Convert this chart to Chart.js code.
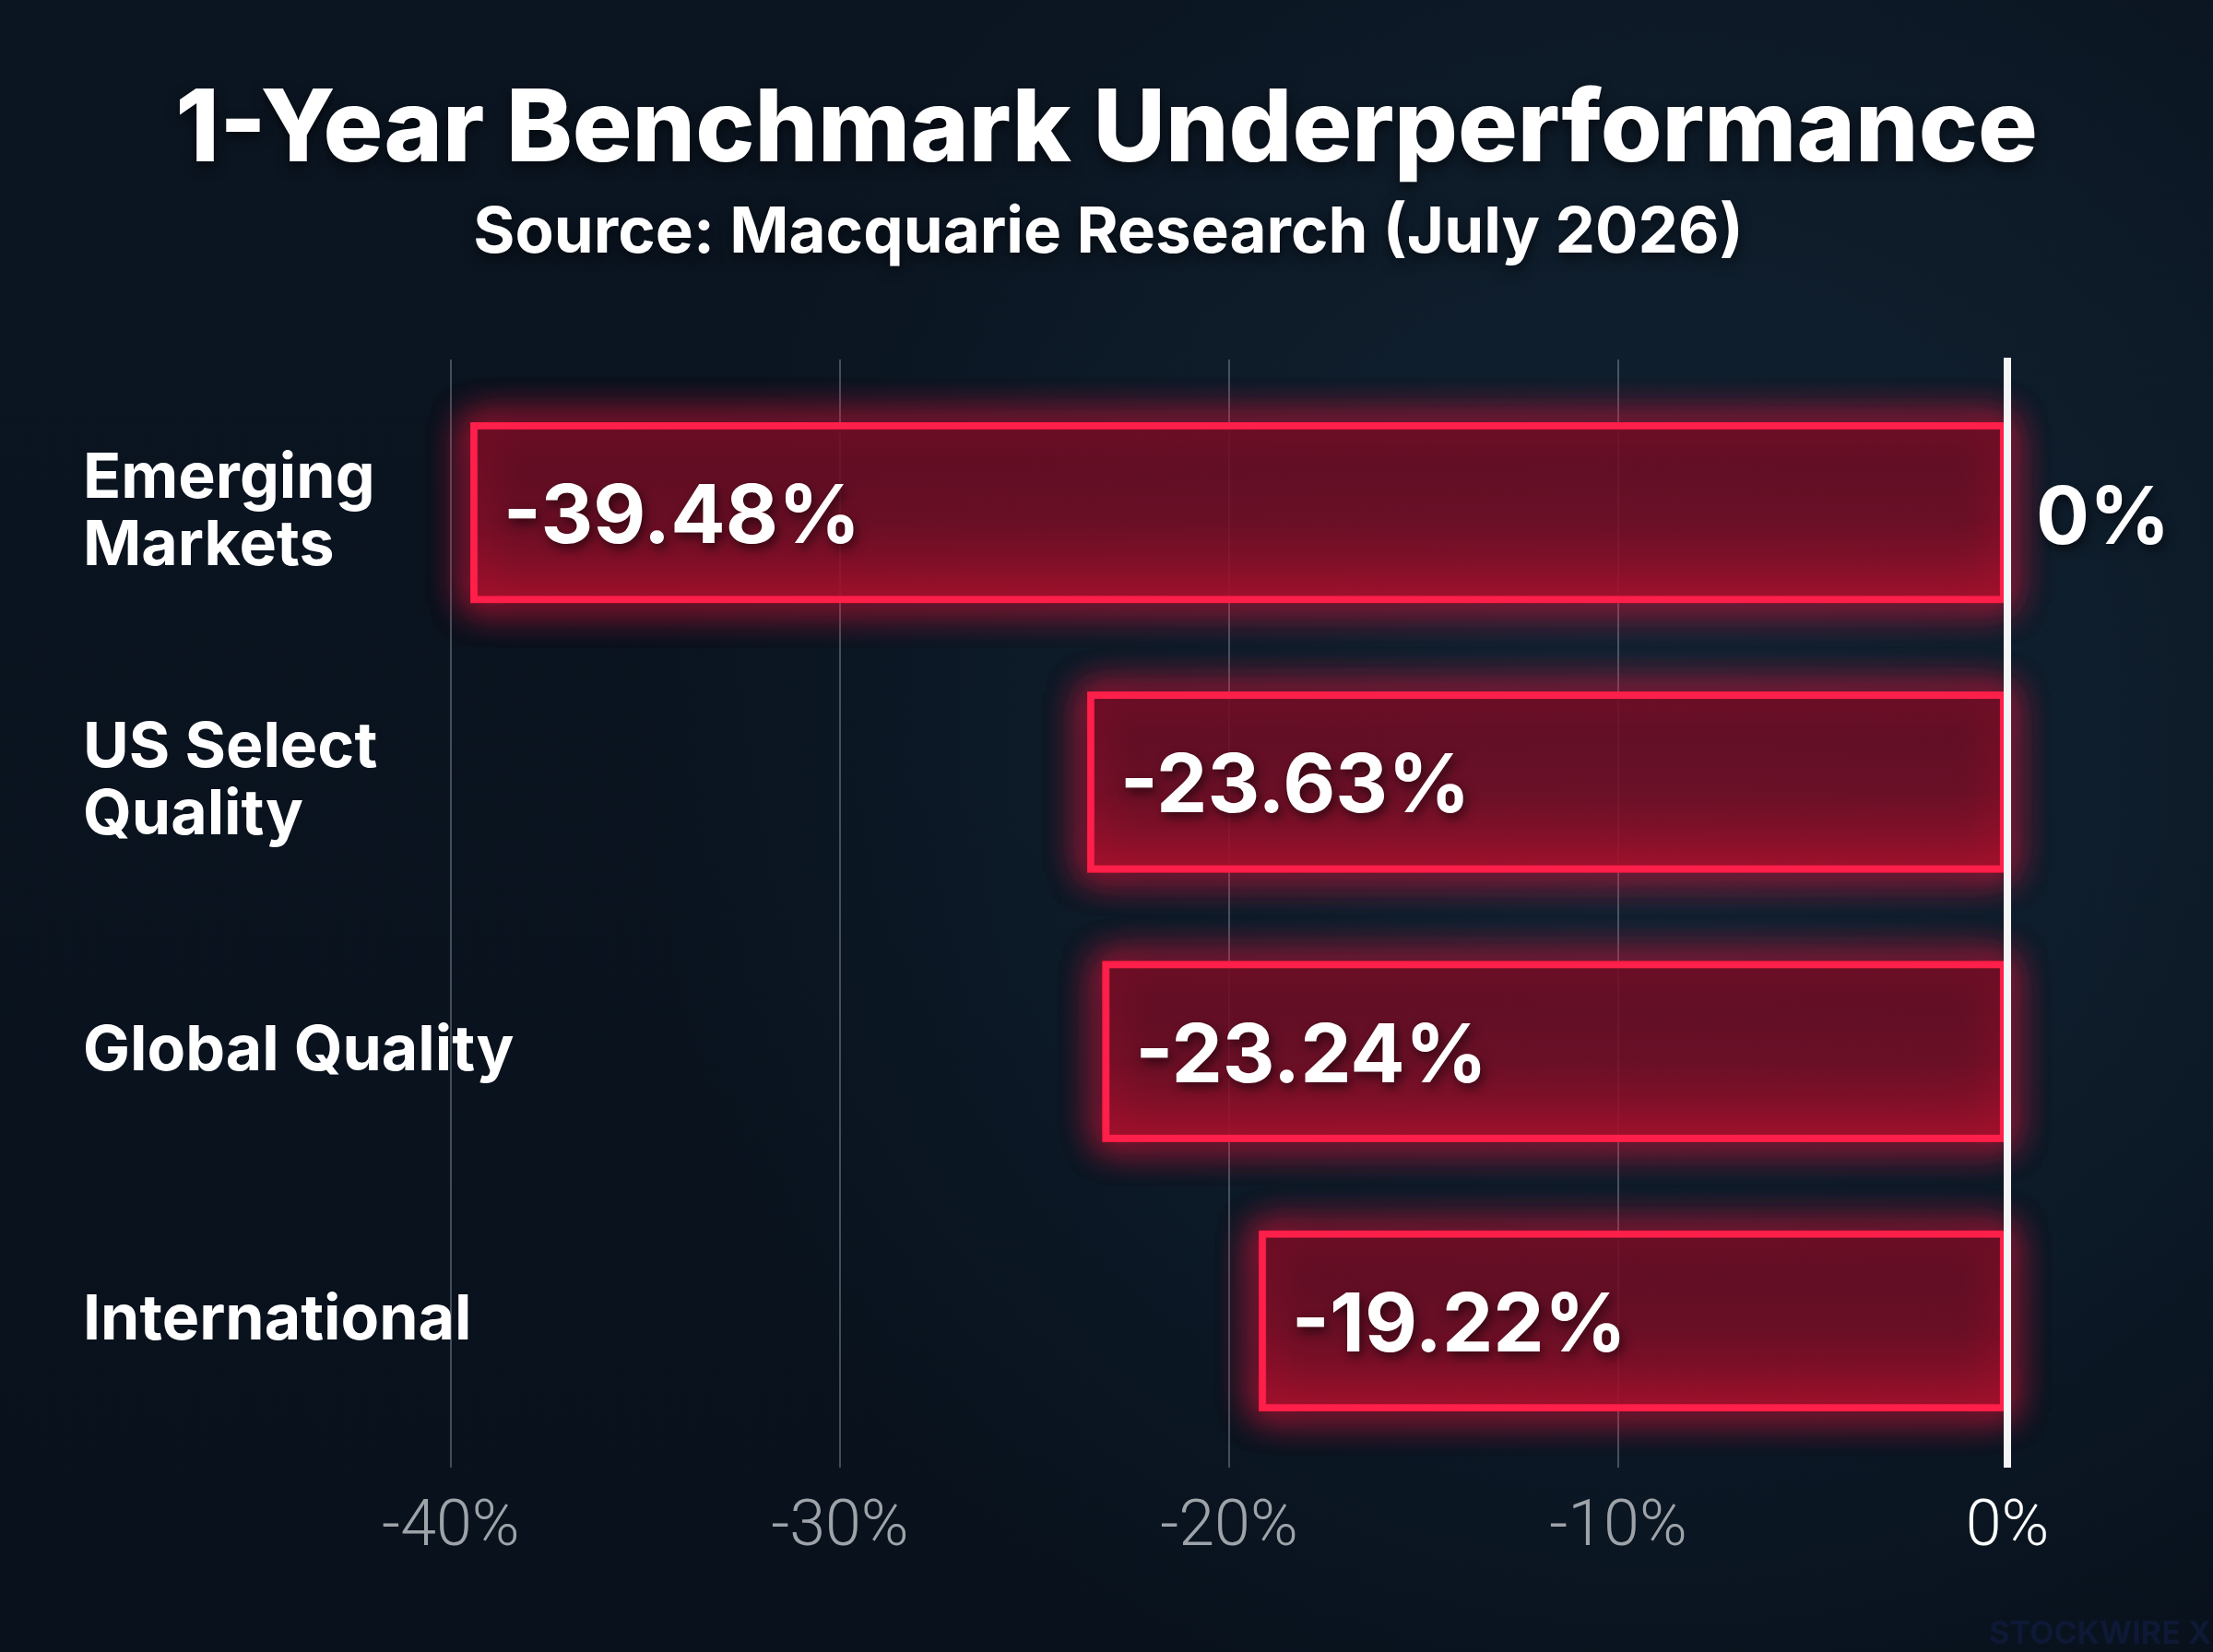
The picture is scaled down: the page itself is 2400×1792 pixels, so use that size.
<!DOCTYPE html>
<html><head><meta charset="utf-8">
<script src="https://cdn.jsdelivr.net/npm/chart.js@4.4.1/dist/chart.umd.min.js"></script>
<style>
html,body{margin:0;padding:0;background:#0a1420;}
#wrap{width:2400px;height:1792px;position:relative;}
canvas{display:block;}
</style></head>
<body><div id="wrap"><canvas id="c" width="2400" height="1792"></canvas></div>
<script>
const titleText = '1-Year Benchmark Underperformance';
const subtitleText = 'Source: Macquarie Research (July 2026)';
const categories = [['Emerging','Markets'],['US Select','Quality'],['Global Quality'],['International']];
const values = [-39.48, -23.63, -23.24, -19.22];
const tickValues = [-40, -30, -20, -10, 0];
const zeroLabel = '0%';
const watermark = 'STOCKWIRE X';

const FONT = 'Inter, "Noto Sans", sans-serif';
const BAR_PCT = 0.667;

function barFill(context) {
  const chart = context.chart;
  const ys = chart.scales.y;
  if (!ys || !chart.chartArea) return 'rgba(120,10,32,0.8)';
  const yc = ys.getPixelForValue(context.dataIndex);
  const half = ys.height / categories.length * BAR_PCT / 2;
  const g = chart.ctx.createLinearGradient(0, yc - half, 0, yc + half);
  g.addColorStop(0, 'rgba(105,12,35,0.86)');
  g.addColorStop(0.55, 'rgba(120,13,37,0.86)');
  g.addColorStop(1, 'rgba(168,15,43,0.88)');
  return g;
}

const deco = {
  id: 'deco',
  beforeDraw(chart) {
    const ctx = chart.ctx, W = chart.width, H = chart.height;
    ctx.save();
    const g = ctx.createLinearGradient(0, 0, 0, H);
    g.addColorStop(0, '#0b1521');
    g.addColorStop(1, '#08111c');
    ctx.fillStyle = g;
    ctx.fillRect(0, 0, W, H);
    const r = ctx.createRadialGradient(1800, 850, 50, 1800, 850, 1100);
    r.addColorStop(0, 'rgba(40,85,115,0.26)');
    r.addColorStop(1, 'rgba(40,85,115,0)');
    ctx.fillStyle = r;
    ctx.fillRect(0, 0, W, H);
    ctx.restore();
  },
  beforeDatasetsDraw(chart) {
    const ctx = chart.ctx;
    const xs = chart.scales.x;
    const top = chart.chartArea.top;
    ctx.save();
    ctx.strokeStyle = 'rgba(140,150,165,0.45)';
    ctx.lineWidth = 2;
    tickValues.forEach(v => {
      if (v === 0) return;
      const px = Math.round(xs.getPixelForValue(v));
      ctx.beginPath();
      ctx.moveTo(px, top - 20);
      ctx.lineTo(px, top);
      ctx.stroke();
    });
    ctx.restore();
    const meta = chart.getDatasetMeta(0);
    ctx.save();
    ctx.strokeStyle = 'rgba(255,30,65,0.9)';
    ctx.lineWidth = 8;
    ctx.shadowColor = 'rgba(255,20,60,1)';
    ctx.shadowBlur = 40;
    meta.data.forEach(bar => {
      const l = Math.min(bar.x, bar.base), r = Math.max(bar.x, bar.base);
      const t = bar.y - bar.height / 2, h = bar.height;
      for (let k = 0; k < 3; k++) ctx.strokeRect(l + 3.5, t + 3.5, r - l - 7, h - 7);
    });
    ctx.restore();
  },
  afterDatasetsDraw(chart) {
    const ctx = chart.ctx;
    const xs = chart.scales.x;
    const x0 = xs.getPixelForValue(0);
    ctx.save();
    ctx.strokeStyle = '#f4f5f7';
    ctx.lineWidth = 8;
    ctx.beginPath();
    ctx.moveTo(x0, chart.chartArea.top - 22);
    ctx.lineTo(x0, chart.chartArea.bottom + 13);
    ctx.stroke();
    ctx.restore();
    const meta = chart.getDatasetMeta(0);
    ctx.save();
    ctx.font = '700 88px ' + FONT;
    ctx.fillStyle = '#ffffff';
    ctx.textAlign = 'left';
    ctx.textBaseline = 'alphabetic';
    ctx.shadowColor = 'rgba(0,0,0,0.55)';
    ctx.shadowBlur = 12;
    ctx.shadowOffsetX = 3;
    ctx.shadowOffsetY = 5;
    meta.data.forEach((bar, i) => {
      const left = Math.min(bar.x, bar.base);
      ctx.fillText(values[i].toFixed(2) + '%', left + 35, bar.y + 33);
    });
    const b0 = meta.data[0];
    ctx.font = '700 86px ' + FONT;
    ctx.fillText(zeroLabel, x0 + 31, b0.y + 34);
    ctx.restore();
  },
  afterDraw(chart) {
    const ctx = chart.ctx;
    ctx.save();
    ctx.textAlign = 'center';
    ctx.textBaseline = 'alphabetic';
    ctx.fillStyle = '#ffffff';
    ctx.shadowColor = 'rgba(0,0,0,0.6)';
    ctx.shadowBlur = 14;
    ctx.shadowOffsetY = 5;
    ctx.font = '800 108px ' + FONT;
    ctx.fillText(titleText, 1200, 175);
    ctx.font = '700 69px ' + FONT;
    ctx.fillText(subtitleText, 1202, 274);
    ctx.shadowColor = 'rgba(0,0,0,0)';
    ctx.font = '700 34px ' + FONT;
    ctx.fillStyle = '#0e1936';
    ctx.textAlign = 'right';
    ctx.fillText(watermark, 2398, 1783);
    ctx.restore();
  }
};

new Chart(document.getElementById('c'), {
  type: 'bar',
  data: {
    labels: categories,
    datasets: [{
      data: values,
      backgroundColor: barFill,
      borderColor: '#ff1f4b',
      borderWidth: 7,
      borderSkipped: false,
      barPercentage: BAR_PCT,
      categoryPercentage: 1
    }]
  },
  options: {
    indexAxis: 'y',
    responsive: false,
    animation: false,
    devicePixelRatio: 1,
    layout: { padding: { left: 90, right: 223, top: 410, bottom: 0 } },
    plugins: { legend: { display: false }, tooltip: { enabled: false }, title: { display: false } },
    scales: {
      x: {
        type: 'linear', min: -44, max: 0,
        afterBuildTicks: (s) => { s.ticks = tickValues.map(v => ({ value: v })); },
        afterFit: (s) => { s.height = 213; },
        grid: {
          color: (c) => (c.tick && c.tick.value === 0) ? 'rgba(0,0,0,0)' : 'rgba(140,150,165,0.45)',
          lineWidth: 2, tickLength: 13, drawTicks: true
        },
        border: { display: false },
        ticks: {
          padding: 24,
          color: (c) => (c.tick && c.tick.value === 0) ? '#ffffff' : '#9ea3a9',
          font: { family: 'Roboto', size: 70, weight: '300' },
          callback: (v) => v + '%'
        }
      },
      y: {
        afterFit: (s) => { s.width = 230; },
        grid: { display: false },
        border: { display: false },
        ticks: {
          mirror: true, crossAlign: 'near', padding: -230, color: '#ffffff',
          font: { family: 'Inter', size: 68, weight: 'bold', lineHeight: 1.07 }
        }
      }
    }
  },
  plugins: [deco]
});
</script>
</body></html>
